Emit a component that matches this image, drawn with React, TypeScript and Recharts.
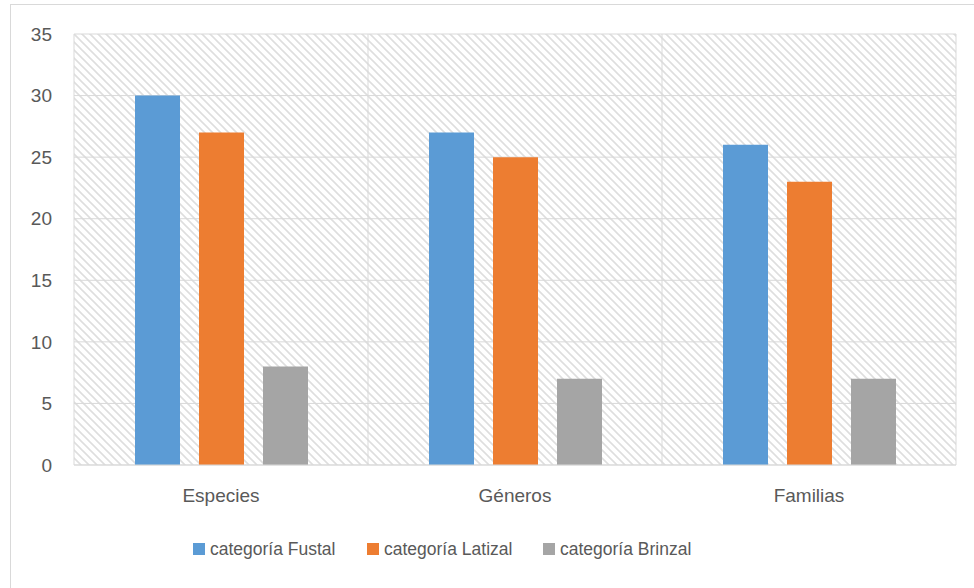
import React from 'react';
import { BarChart, Bar, XAxis, YAxis, CartesianGrid, Legend } from 'recharts';

const categories = ['Especies', 'Géneros', 'Familias'];
const fustal = [30, 27, 26];
const latizal = [27, 25, 23];
const brinzal = [8, 7, 7];
const yTicks = [0, 5, 10, 15, 20, 25, 30, 35];

const seriesNames = ['categoría Fustal', 'categoría Latizal', 'categoría Brinzal'];
const seriesColors = ['#5B9BD5', '#ED7D31', '#A5A5A5'];

const data = categories.map((name, i) => ({
    name,
    fustal: fustal[i],
    latizal: latizal[i],
    brinzal: brinzal[i],
}));

const FONT = '"Liberation Sans", Arial, sans-serif';
const GRID = '#d9d9d9';
const TEXT = '#595959';

const LegendContent = () => {
    const itemWidths = [174, 176, 200];
    return (
        <div style={{ display: 'flex', height: 30, alignItems: 'center', paddingLeft: 193, fontFamily: FONT }}>
            {seriesNames.map((n, i) => (
                <div key={n} style={{ display: 'flex', alignItems: 'center', width: itemWidths[i] }}>
                    <span style={{ display: 'inline-block', width: 12, height: 12, background: seriesColors[i], marginRight: 5 }} />
                    <span style={{ fontSize: 17.5, color: TEXT }}>{n}</span>
                </div>
            ))}
        </div>
    );
};

const App: React.FC = () => {
    return (
        <div style={{ position: 'absolute', left: 0, top: 0, width: 974, height: 588, overflow: 'hidden', background: '#fff' }}>
            <div style={{ position: 'absolute', left: 10, top: 4, width: 1000, height: 1000, border: `1px solid ${GRID}` }} />
            <div style={{ position: 'absolute', left: 0, top: 0 }}>
                <BarChart
                    width={974}
                    height={588}
                    data={data}
                    margin={{ top: 34, right: 18, left: 0, bottom: 24 }}
                    barCategoryGap={61}
                    barGap={19}
                >
                    <defs>
                        <pattern id="hatch" width="8" height="8" patternUnits="userSpaceOnUse">
                            <path d="M-2,-2 L10,10 M-2,6 L2,10 M6,-2 L10,2" stroke="#dedede" strokeWidth="1.6" />
                        </pattern>
                    </defs>
                    <CartesianGrid
                        fill="url(#hatch)"
                        fillOpacity={1}
                        stroke={GRID}
                        verticalCoordinatesGenerator={({ offset }: any) => [
                            offset.left,
                            offset.left + offset.width / 3,
                            offset.left + (2 * offset.width) / 3,
                            offset.left + offset.width,
                        ]}
                    />
                    <XAxis
                        dataKey="name"
                        height={69}
                        axisLine={{ stroke: GRID }}
                        tickLine={false}
                        tickSize={0}
                        tickMargin={24}
                        tick={{ fill: TEXT, fontSize: 19, fontFamily: FONT }}
                    />
                    <YAxis
                        width={74}
                        domain={[0, 35]}
                        ticks={yTicks}
                        axisLine={false}
                        tickLine={false}
                        tickSize={0}
                        tickMargin={22}
                        tick={{ fill: TEXT, fontSize: 19, fontFamily: FONT }}
                    />
                    <Legend verticalAlign="bottom" height={30} content={<LegendContent />} />
                    <Bar dataKey="fustal" name={seriesNames[0]} fill={seriesColors[0]} isAnimationActive={false} />
                    <Bar dataKey="latizal" name={seriesNames[1]} fill={seriesColors[1]} isAnimationActive={false} />
                    <Bar dataKey="brinzal" name={seriesNames[2]} fill={seriesColors[2]} isAnimationActive={false} />
                </BarChart>
            </div>
        </div>
    );
};

export default App;
